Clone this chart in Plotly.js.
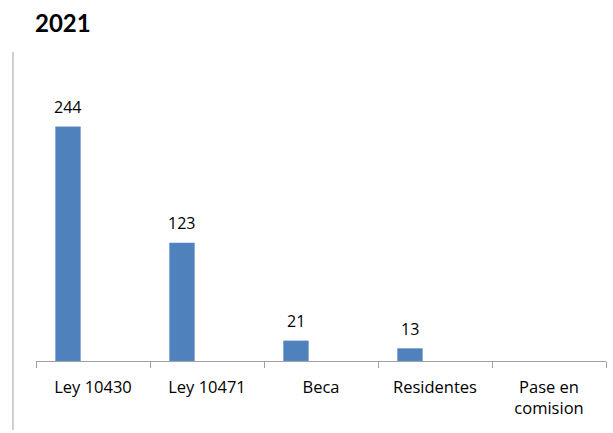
<!DOCTYPE html>
<html>
<head>
<meta charset="utf-8">
<script src="https://cdn.plot.ly/plotly-3.0.1.min.js"></script>
<style>html,body{margin:0;padding:0;background:#fff}#chart{width:613px;height:433px}</style>
</head>
<body>
<div id="chart"></div>
<script>
const categories = ["Ley 10430", "Ley 10471", "Beca", "Residentes", "Pase en<br>comision"];
const values = [244, 123, 21, 13, null];
const valueLabels = ["244", "123", "21", "13", ""];
const chartTitle = "2021";

const FONT = "'Open Sans', sans-serif";
const BAR_W = 0.219, BAR_OFF = -0.329;

const trace = {
  type: "bar",
  x: categories,
  y: values,
  width: BAR_W,
  offset: BAR_OFF,
  marker: {color: "#4F81BD", line: {color: "#6f97c9", width: 0.5}},
  hoverinfo: "none"
};

const annotations = categories.map((c, i) => values[i] == null ? null : ({
  x: i + BAR_OFF + BAR_W / 2, xref: "x", y: values[i], yref: "y",
  text: valueLabels[i], showarrow: false, yanchor: "bottom", xanchor: "center", yshift: 7,
  font: {family: FONT, size: 16, color: "#000"}
})).filter(a => a);

const layout = {
  width: 613, height: 433,
  margin: {l: 36, r: 7, t: 73, b: 72},
  paper_bgcolor: "#fff", plot_bgcolor: "#fff",
  showlegend: false,
  title: {text: "<b>" + chartTitle + "</b>", x: 0, xref: "container", xanchor: "left", y: 0.945, yanchor: "middle",
          font: {family: "Lato, sans-serif", size: 24, color: "#000"}, pad: {l: 35}},
  xaxis: {
    type: "category",
    range: [-0.5, 4.5],
    showline: true, linecolor: "#a0a0a0", linewidth: 1,
    ticks: "outside", tickson: "boundaries", ticklen: 6, tickcolor: "#a0a0a0",
    ticklabelstandoff: 11,
    showgrid: false, zeroline: false,
    tickfont: {family: FONT, size: 16.5, color: "#000"}
  },
  yaxis: {
    range: [0, 300],
    visible: false, showgrid: false, zeroline: false
  },
  annotations: annotations,
  shapes: [
    {type: "line", xref: "paper", yref: "paper", x0: -0.0404, x1: -0.0404, y0: -0.24, y1: 1.073,
     line: {color: "#a0a0a0", width: 1}}
  ]
};

Plotly.newPlot("chart", [trace], layout, {displayModeBar: false, staticPlot: true});
</script>
</body>
</html>
